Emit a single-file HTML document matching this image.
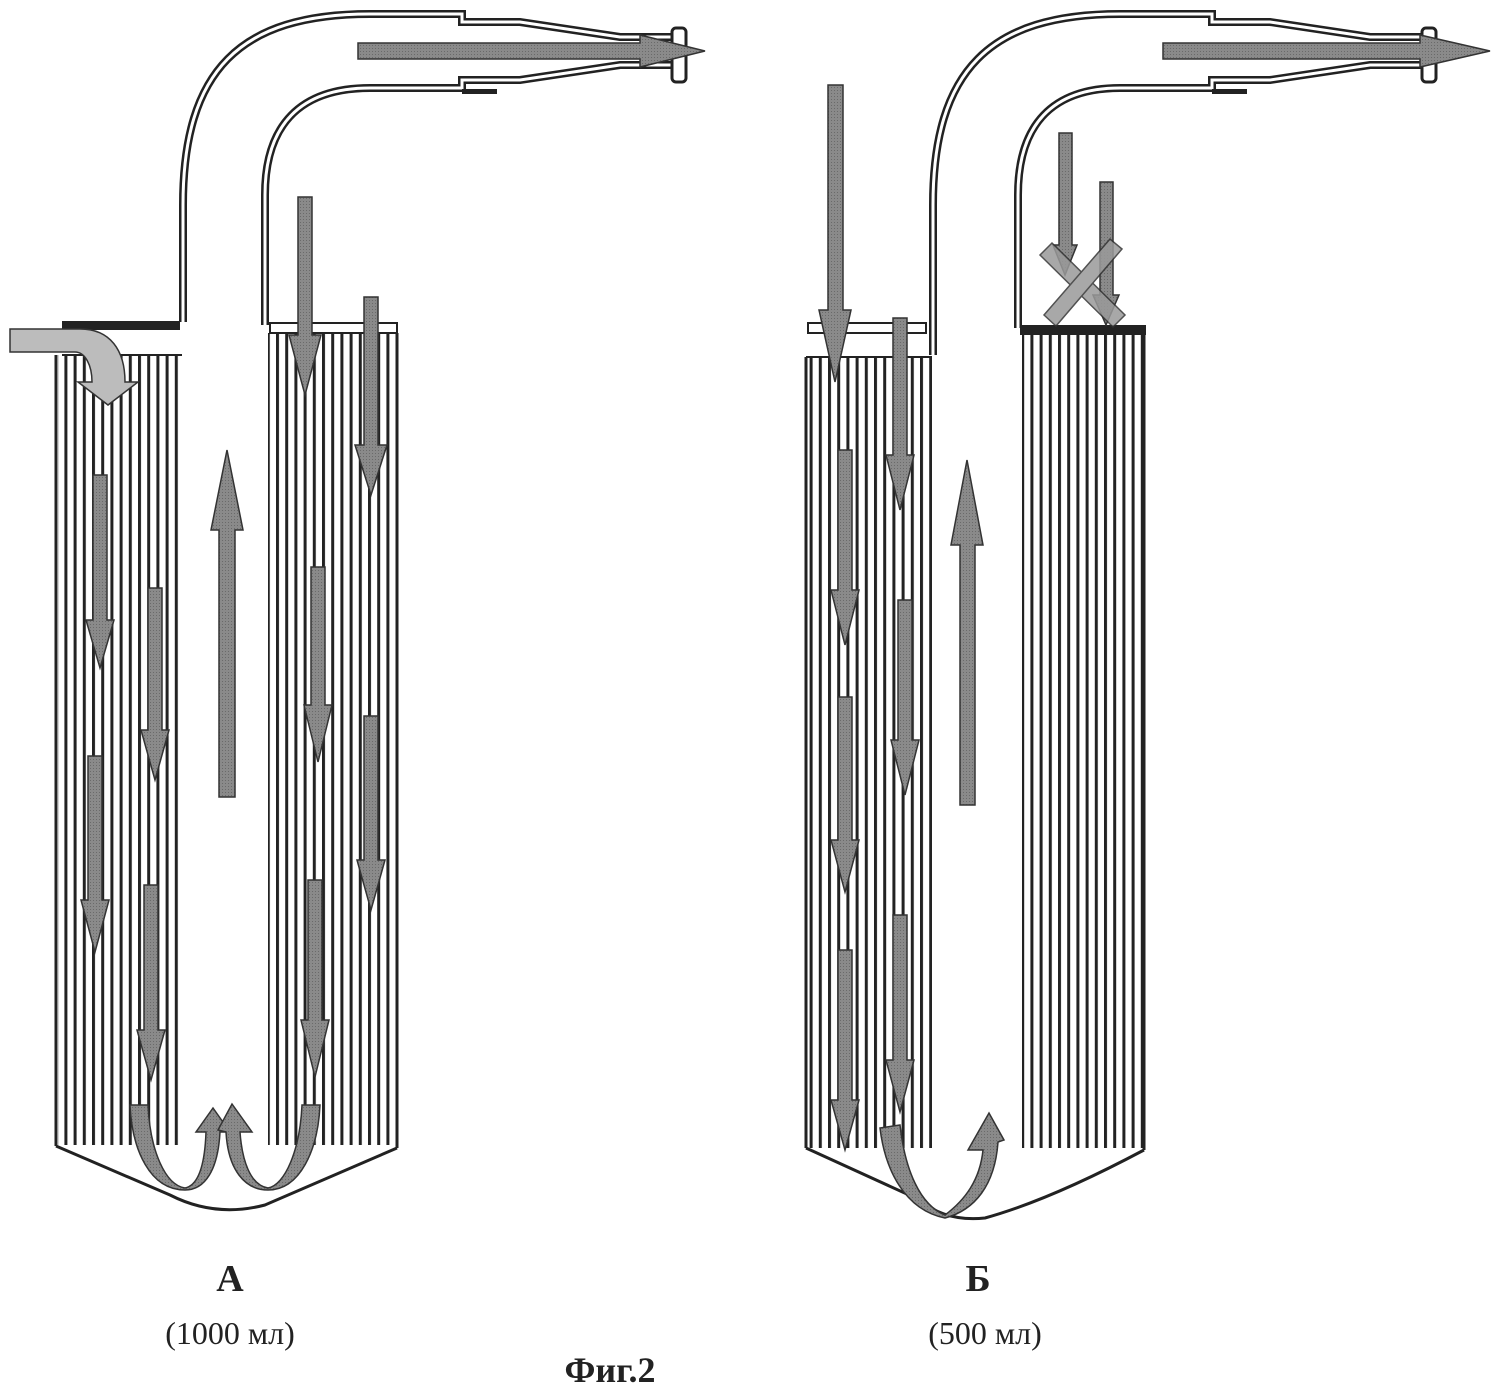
<!DOCTYPE html>
<html><head><meta charset="utf-8"><style>
html,body{margin:0;padding:0;background:#fff;}
svg{display:block;}
</style></head><body>
<svg width="1498" height="1388" viewBox="0 0 1498 1388" xmlns="http://www.w3.org/2000/svg">
<defs>
<pattern id="ln" width="9.2" height="10" patternUnits="userSpaceOnUse">
<rect x="0" y="0" width="3" height="10" fill="#222"/>
</pattern>
<pattern id="dots" width="3" height="3" patternUnits="userSpaceOnUse">
<rect width="3" height="3" fill="#8a8a8a"/><rect width="1" height="1" fill="#6a6a6a"/>
</pattern>
</defs>
<rect width="1498" height="1388" fill="#fff"/>

<!-- ===== Figure A ===== -->
<!-- filter blocks -->
<rect x="58" y="355" width="124" height="790" fill="url(#ln)"/>
<line x1="56" y1="355" x2="56" y2="1146" stroke="#222" stroke-width="3"/>
<rect x="268" y="333" width="130" height="812" fill="url(#ln)"/>
<line x1="397" y1="333" x2="397" y2="1148" stroke="#222" stroke-width="3"/>
<!-- caps -->
<rect x="62" y="321" width="118" height="9" fill="#222"/>
<rect x="62" y="330" width="118" height="25" fill="#fff"/>
<line x1="62" y1="355" x2="182" y2="355" stroke="#222" stroke-width="2"/>
<rect x="270" y="323" width="127" height="10" fill="#fff" stroke="#222" stroke-width="2"/>
<!-- bottom -->
<path d="M56 1146 L170 1195 Q215 1218 265 1205 L397 1148" fill="none" stroke="#222" stroke-width="3"/>
<!-- tube A -->
<g fill="none" stroke-linejoin="miter">
<path d="M183 322 V205 C183 70 240 14 370 14 H462 V22 H520 L620 37 H672" stroke="#222" stroke-width="8"/>
<path d="M183 322 V205 C183 70 240 14 370 14 H462 V22 H520 L620 37 H672" stroke="#fff" stroke-width="3"/>
<path d="M265 325 V195 C265 125 300 88 370 88 H462 V80 H520 L620 65 H672" stroke="#222" stroke-width="8"/>
<path d="M265 325 V195 C265 125 300 88 370 88 H462 V80 H520 L620 65 H672" stroke="#fff" stroke-width="3"/>
</g>
<rect x="672" y="28" width="14" height="54" rx="4" fill="#fff" stroke="#222" stroke-width="3"/>
<rect x="462" y="89" width="35" height="5" fill="#222"/>

<g fill="url(#dots)" stroke="#333" stroke-width="1.5">
<!-- outlet A -->
<polygon points="358,43 640,43 640,35 705,51 640,67 640,59 358,59"/>
<!-- down arrows A -->
<polygon points="298,197 312,197 312,335 321,335 305,395 289,335 298,335"/>
<polygon points="364,297 378,297 378,445 387,445 371,495 355,445 364,445"/>
<polygon points="93,475 107,475 107,620 114,620 100,668 86,620 93,620"/>
<polygon points="148,588 162,588 162,730 169,730 155,780 141,730 148,730"/>
<polygon points="88,756 102,756 102,900 109,900 95,952 81,900 88,900"/>
<polygon points="144,885 158,885 158,1030 165,1030 151,1080 137,1030 144,1030"/>
<polygon points="311,567 325,567 325,705 332,705 318,762 304,705 311,705"/>
<polygon points="364,716 378,716 378,860 385,860 371,910 357,860 364,860"/>
<polygon points="308,880 322,880 322,1020 329,1020 315,1077 301,1020 308,1020"/>
<!-- up arrow A -->
<polygon points="219,797 235,797 235,530 243,530 227,450 211,530 219,530"/>
<!-- U arrows A -->
<path d="M130 1105 L148 1105 C150 1150 165 1185 185 1188 C200 1185 205 1160 206 1132 L196 1132 L213 1108 L230 1132 L220 1132 C218 1170 205 1190 185 1190 C150 1190 132 1150 130 1105 Z"/>
<path d="M320 1105 L302 1105 C300 1150 285 1185 268 1188 C250 1185 242 1160 240 1132 L252 1132 L232 1104 L218 1130 L226 1132 C228 1170 245 1190 268 1190 C300 1190 318 1150 320 1105 Z"/>
</g>
<!-- inlet arrow -->
<path d="M10 329 H80 C110 329 125 350 125 382 H138 L108 405 L78 382 H92 C92 365 85 352 75 352 H10 Z" fill="#bcbcbc" stroke="#333" stroke-width="1.5"/>

<!-- ===== Figure B ===== -->
<rect x="808" y="357" width="124" height="791" fill="url(#ln)"/>
<line x1="806" y1="357" x2="806" y2="1148" stroke="#222" stroke-width="3"/>
<line x1="806" y1="357" x2="932" y2="357" stroke="#222" stroke-width="2"/>
<rect x="1022" y="335" width="123" height="813" fill="url(#ln)"/>
<line x1="1144" y1="335" x2="1144" y2="1150" stroke="#222" stroke-width="3"/>
<rect x="808" y="323" width="118" height="10" fill="#fff" stroke="#222" stroke-width="2"/>
<rect x="1020" y="325" width="126" height="10" fill="#222"/>
<path d="M806 1148 L920 1200 Q945 1222 985 1218 Q1050 1200 1144 1150" fill="none" stroke="#222" stroke-width="3"/>
<g fill="none">
<path d="M933 355 V205 C933 70 990 14 1120 14 H1212 V22 H1270 L1370 37 H1422" stroke="#222" stroke-width="8"/>
<path d="M933 355 V205 C933 70 990 14 1120 14 H1212 V22 H1270 L1370 37 H1422" stroke="#fff" stroke-width="3"/>
<path d="M1018 328 V195 C1018 125 1052 88 1120 88 H1212 V80 H1270 L1370 65 H1422" stroke="#222" stroke-width="8"/>
<path d="M1018 328 V195 C1018 125 1052 88 1120 88 H1212 V80 H1270 L1370 65 H1422" stroke="#fff" stroke-width="3"/>
</g>
<rect x="1422" y="28" width="14" height="54" rx="4" fill="#fff" stroke="#222" stroke-width="3"/>
<rect x="1212" y="89" width="35" height="5" fill="#222"/>

<g fill="url(#dots)" stroke="#333" stroke-width="1.5">
<polygon points="1163,43 1420,43 1420,35 1490,51 1420,67 1420,59 1163,59"/>
<polygon points="828,85 843,85 843,310 851,310 835,382 819,310 828,310"/>
<polygon points="893,318 907,318 907,455 914,455 900,510 886,455 893,455"/>
<polygon points="838,450 852,450 852,590 859,590 845,645 831,590 838,590"/>
<polygon points="898,600 912,600 912,740 919,740 905,795 891,740 898,740"/>
<polygon points="838,697 852,697 852,840 859,840 845,892 831,840 838,840"/>
<polygon points="838,950 852,950 852,1100 859,1100 845,1150 831,1100 838,1100"/>
<polygon points="893,915 907,915 907,1060 914,1060 900,1112 886,1060 893,1060"/>
<polygon points="960,805 975,805 975,545 983,545 967,460 951,545 960,545"/>
<polygon points="1059,133 1072,133 1072,245 1077,245 1065,275 1053,245 1059,245"/>
<polygon points="1100,182 1113,182 1113,295 1119,295 1106,325 1093,295 1100,295"/>
<!-- U arrow B -->
<path d="M880 1128 L900 1125 C905 1170 920 1205 945 1215 C965 1200 980 1180 983 1150 L968 1150 L989 1113 L1004 1140 L998 1142 C995 1185 975 1210 945 1218 C905 1210 885 1170 880 1128 Z"/>
</g>
<!-- X cross -->
<g fill="#9a9a9a" stroke="#333" stroke-width="1.5" opacity="0.85">
<polygon points="1040,255 1052,243 1125,315 1113,327"/>
<polygon points="1044,315 1110,239 1122,249 1056,326"/>
</g>

<!-- labels -->
<g font-family="'Liberation Serif', 'Noto Serif CJK SC', serif" fill="#222" text-anchor="middle">
<text x="230" y="1291" font-size="38" font-weight="bold">А</text>
<text x="230" y="1344" font-size="32">(1000 мл)</text>
<text x="978" y="1291" font-size="38" font-weight="bold">Б</text>
<text x="985" y="1344" font-size="32">(500 мл)</text>
<text x="610" y="1382" font-size="36" font-weight="bold">Фиг.2</text>
</g>
</svg>
</body></html>
